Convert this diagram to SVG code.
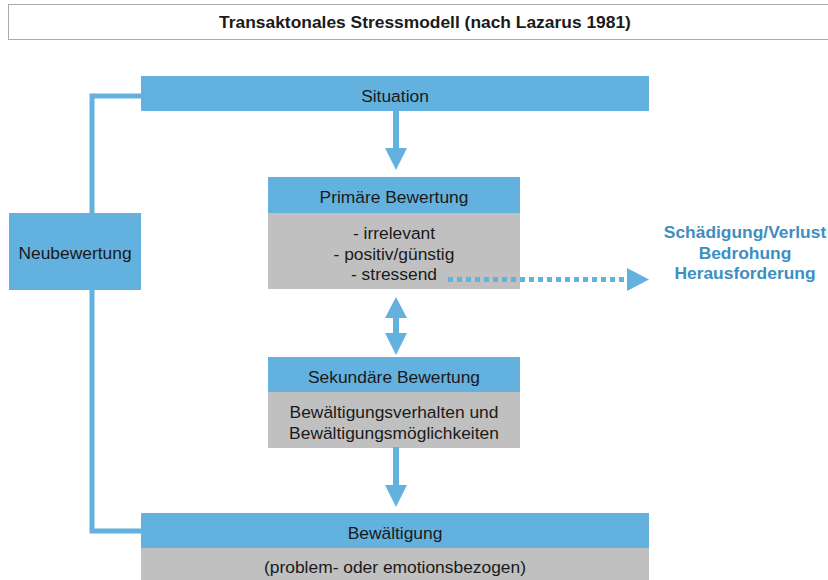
<svg xmlns="http://www.w3.org/2000/svg" width="828" height="580" viewBox="0 0 828 580">
<style>
.blue{fill:#63B1DF}
.gray{fill:#C0C0C0}
.t{font-family:"Liberation Sans",Arial,sans-serif;font-size:17.4px;fill:#1a1a1a;text-anchor:middle;dominant-baseline:central}
.title{font-weight:bold}
.res{font-family:"Liberation Sans",Arial,sans-serif;font-size:17.4px;font-weight:bold;fill:#3E8EBF;text-anchor:middle;dominant-baseline:central}
.ln{fill:none;stroke:#63B1DF;stroke-width:5}
.ar{fill:#63B1DF}
</style>
<rect x="0" y="0" width="828" height="580" fill="#fff"/>
<g id="title">
<rect x="8.5" y="4.5" width="830" height="35" fill="#fff" stroke="#ababab" stroke-width="1"/>
<text class="t title" x="425" y="22">Transaktonales Stressmodell (nach Lazarus 1981)</text>
</g>
<g id="situation">
<rect class="blue" x="141" y="76" width="508" height="35"/>
<text class="t" x="395" y="96">Situation</text>
</g>
<g id="neubewertung">
<rect class="blue" x="9" y="213" width="132" height="77"/>
<text class="t" x="75" y="253">Neubewertung</text>
</g>
<g id="primaer">
<rect class="blue" x="268" y="177" width="252" height="36"/>
<rect class="gray" x="268" y="213" width="252" height="76"/>
<text class="t" x="394" y="197">Primäre Bewertung</text>
<text class="t" x="394" y="233">- irrelevant</text>
<text class="t" x="394" y="254">- positiv/günstig</text>
<text class="t" x="394" y="274">- stressend</text>
</g>
<g id="ergebnis">
<text class="res" x="745" y="232">Schädigung/Verlust</text>
<text class="res" x="745" y="253">Bedrohung</text>
<text class="res" x="745" y="273">Herausforderung</text>
</g>
<g id="sekundaer">
<rect class="blue" x="268" y="357" width="252" height="35"/>
<rect class="gray" x="268" y="392" width="252" height="56"/>
<text class="t" x="394" y="377">Sekundäre Bewertung</text>
<text class="t" x="394" y="412">Bewältigungsverhalten und</text>
<text class="t" x="394" y="433">Bewältigungsmöglichkeiten</text>
</g>
<g id="bewaeltigung">
<rect class="blue" x="141" y="513" width="508" height="35"/>
<rect class="gray" x="141" y="548" width="508" height="32"/>
<text class="t" x="395" y="533">Bewältigung</text>
<text class="t" x="395" y="567">(problem- oder emotionsbezogen)</text>
</g>
<g id="connectors">
<path class="ln" d="M141 96 H92 V213"/>
<path class="ln" d="M92 290 V531 H141"/>
<rect class="ar" x="393" y="111" width="6" height="38"/>
<polygon class="ar" points="385,148 407,148 396,170"/>
<polygon class="ar" points="396,297 385,318 407,318"/>
<rect class="ar" x="393" y="317" width="6" height="17"/>
<polygon class="ar" points="385,333 407,333 396,355"/>
<rect class="ar" x="393" y="447" width="6" height="39"/>
<polygon class="ar" points="385,485 407,485 396,507"/>
<line class="ln" x1="448" y1="279.5" x2="624" y2="279.5" stroke-dasharray="5 4"/>
<polygon class="ar" points="627,268 627,291 649,279.5"/>
</g>
</svg>
